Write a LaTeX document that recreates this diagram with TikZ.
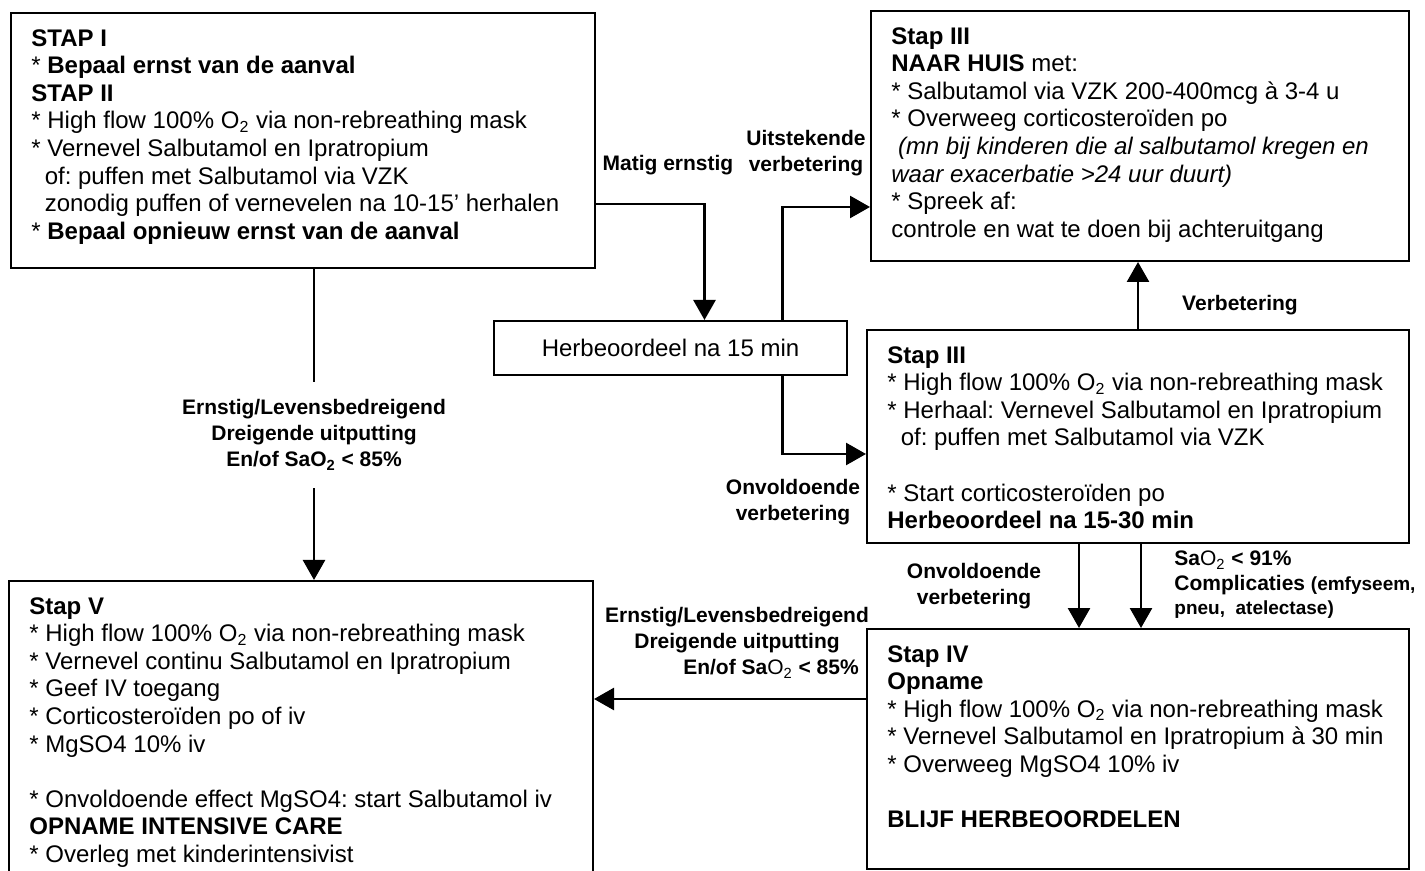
\documentclass[tikz,border=0pt]{standalone}
\usepackage{fontspec}
\setmainfont{Liberation Sans}
\frenchspacing
\usetikzlibrary{arrows.meta,positioning}
\tikzset{stapbox/.style={draw, line width=1pt, anchor=north west, inner sep=0pt},
staptekst/.style={below right=8.5pt and 10.5pt of #1, align=left, inner sep=0pt, font=\fontsize{12}{13.8}\selectfont},
keuze/.style={align=center, inner sep=0pt, font=\fontsize{10.5}{13}\selectfont\bfseries},
lijn/.style={line width=1.3pt},
pijl/.style={line width=1.3pt, -{Triangle[length=10pt,width=11pt]}}}

\begin{document}
\begin{tikzpicture}[x=0.5pt,y=-0.5pt]
\useasboundingbox (0,0) rectangle (1425,871);
\node[stapbox, minimum width=292pt, minimum height=127.5pt] (stap12) at (10,12) {};
\node[staptekst=stap12.north west] (stap12tekst) {\textbf{STAP I}\\
* \textbf{Bepaal ernst van de aanval}\\
\textbf{STAP II}\\
* High flow 100\% O\textsubscript{2} via non-rebreathing mask\\
* Vernevel Salbutamol en Ipratropium\\
\hspace*{6.7pt}of: puffen met Salbutamol via VZK\\
\hspace*{6.7pt}zonodig puffen of vernevelen na 10-15’ herhalen\\
* \textbf{Bepaal opnieuw ernst van de aanval}};
\node[stapbox, minimum width=269pt, minimum height=125pt] (huis) at (870,10) {};
\node[staptekst=huis.north west] (huistekst) {\textbf{Stap III}\\
\textbf{NAAR HUIS} met:\\
* Salbutamol via VZK 200-400mcg à 3-4 u\\
* Overweeg corticosteroïden po\\
\hspace*{3.3pt}\textit{(mn bij kinderen die al salbutamol kregen en}\\
\textit{waar exacerbatie >24 uur duurt)}\\
* Spreek af:\\
controle en wat te doen bij achteruitgang};
\node[stapbox, minimum width=176.5pt, minimum height=27pt, font=\fontsize{12}{13.8}\selectfont] (herb) at (493,320) {Herbeoordeel na 15 min};
\node[stapbox, minimum width=271pt, minimum height=106.5pt] (stap3) at (866,329) {};
\node[staptekst=stap3.north west] (stap3tekst) {\textbf{Stap III}\\
* High flow 100\% O\textsubscript{2} via non-rebreathing mask\\
* Herhaal: Vernevel Salbutamol en Ipratropium\\
\hspace*{6.7pt}of: puffen met Salbutamol via VZK\\[13.8pt]
* Start corticosteroïden po\\
\textbf{Herbeoordeel na 15-30 min}};
\node[stapbox, minimum width=271pt, minimum height=120pt] (stap4) at (866,628) {};
\node[staptekst=stap4.north west] (stap4tekst) {\textbf{Stap IV}\\
\textbf{Opname}\\
* High flow 100\% O\textsubscript{2} via non-rebreathing mask\\
* Vernevel Salbutamol en Ipratropium à 30 min\\
* Overweeg MgSO4 10\% iv\\[13.8pt]
\textbf{BLIJF HERBEOORDELEN}};
\node[stapbox, minimum width=292pt, minimum height=148pt] (stap5) at (8,580) {};
\node[staptekst=stap5.north west] (stap5tekst) {\textbf{Stap V}\\
* High flow 100\% O\textsubscript{2} via non-rebreathing mask\\
* Vernevel continu Salbutamol en Ipratropium\\
* Geef IV toegang\\
* Corticosteroïden po of iv\\
* MgSO4 10\% iv\\[13.8pt]
* Onvoldoende effect MgSO4: start Salbutamol iv\\
\textbf{OPNAME INTENSIVE CARE}\\
* Overleg met kinderintensivist};

\node[keuze] (matig) at (668,165) {Matig ernstig};
\node[keuze] (uitst) at (806,153) {Uitstekende\\verbetering};
\node[keuze] (onv1) at (793,502) {Onvoldoende\\verbetering};
\node[keuze] (verb) at (1240,305) {Verbetering};
\node[keuze] (onv2) at (974,586) {Onvoldoende\\verbetering};
\node[keuze, align=left, anchor=west, font=\fontsize{10.5}{12.3}\selectfont\bfseries] (compl) at (1174,585) {Sa{\mdseries O\textsubscript{2}} < 91\%\\
Complicaties {\fontsize{9.5}{12.3}\selectfont (emfyseem,}\\
{\fontsize{9.5}{12.3}\selectfont pneu,\ \ atelectase)}};
\node[keuze, minimum height=53pt] (ernstigL) at (314,435) {Ernstig/Levensbedreigend\\Dreigende uitputting\\En/of SaO\textsubscript{2} < 85\%};
\node[keuze] (ernstigR) at (737,643) {Ernstig/Levensbedreigend\\Dreigende uitputting\\\hspace*{34pt}En/of Sa{\mdseries O\textsubscript{2}} < 85\%};

\draw[pijl] ([yshift=-31.75pt]stap12.east) -| ([xshift=17pt]herb.north);
\draw[pijl] ([xshift=56pt]herb.north) |- ([yshift=-35.5pt]huis.west);
\draw[pijl] ([xshift=56pt]herb.south) |- ([yshift=-8.75pt]stap3.west);
\draw[pijl] (stap3.north) -- (stap3.north |- huis.south);
\draw[pijl] ([xshift=-29.5pt]stap3.south) -- ([xshift=-29.5pt]stap4.north);
\draw[pijl] ([xshift=1.5pt]stap3.south) -- ([xshift=1.5pt]stap4.north);
\draw[pijl] ([yshift=25pt]stap4.west) -- ([yshift=25pt]stap4.west -| stap5.east);
\draw[lijn] (stap12.south -| ernstigL.north) -- (ernstigL.north);
\draw[pijl] (ernstigL.south) -- (stap5.north -| ernstigL.south);
\end{tikzpicture}
\end{document}
